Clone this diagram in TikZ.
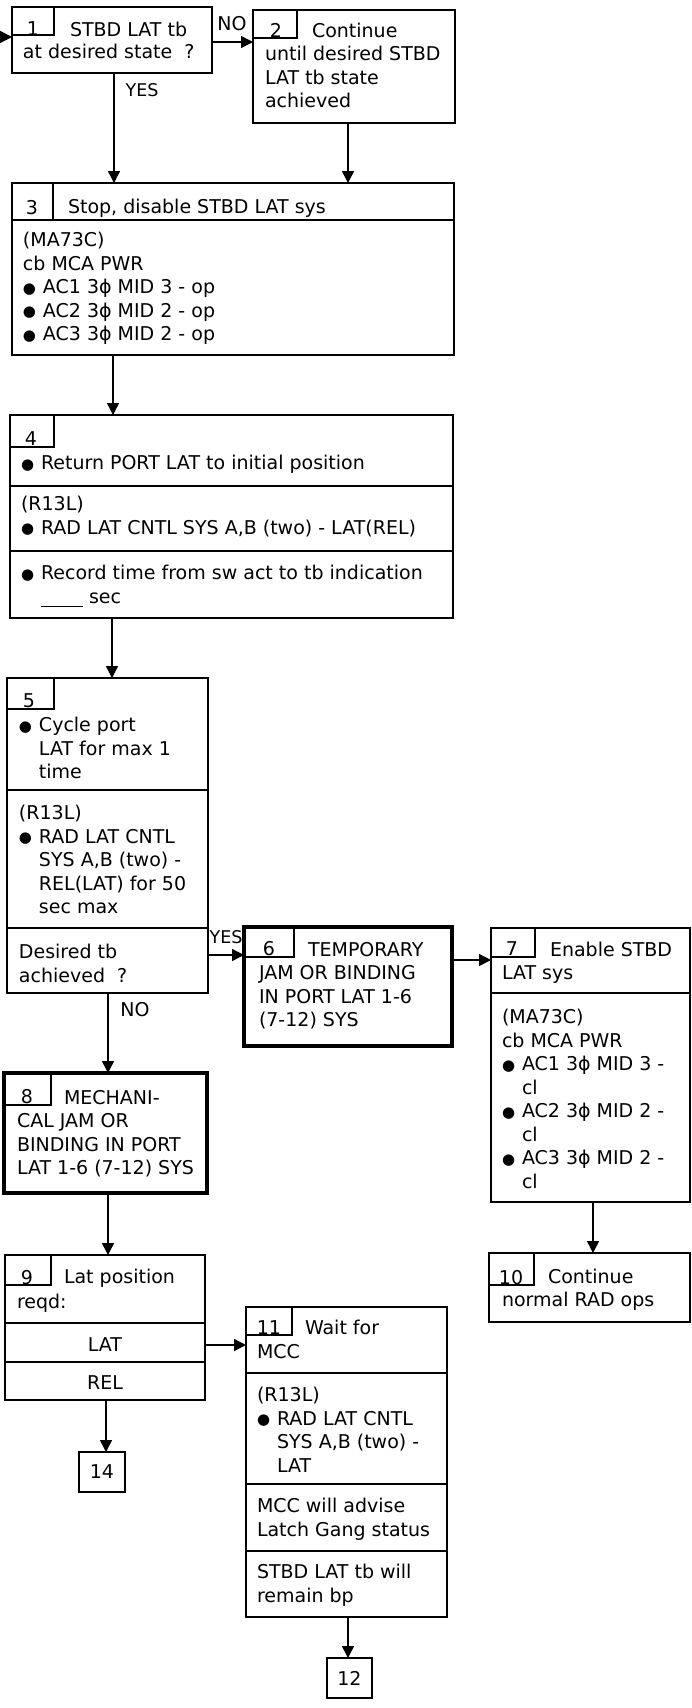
\documentclass[tikz,border=0pt]{standalone}
\usepackage{fontspec}
\setmainfont{DejaVu Sans}
\usetikzlibrary{arrows.meta}
\newcommand\bul{\makebox[20pt][l]{\raisebox{0.5pt}{\fontsize{15}{15}\selectfont ●}}}
\newcommand\indt{\hspace*{20pt}}
\tikzset{
 box/.style={draw, line width=1.3pt, inner sep=0pt, outer sep=0pt, anchor=north west, rectangle},
 thickbox/.style={box, line width=3.6pt},
 numbox/.style={box},
 txt/.style={inner sep=0pt, outer sep=0pt, anchor=north west, align=left, font=\fontsize{19}{23.5}\selectfont},
 num/.style={inner sep=0pt, outer sep=0pt, anchor=base, font=\fontsize{19}{23.5}\selectfont},
 lbl/.style={inner sep=0pt, font=\fontsize{19}{23.5}\selectfont},
 ylbl/.style={inner sep=0pt, font=\fontsize{17.5}{20}\selectfont},
 ln/.style={line width=1.3pt},
 arr/.style={line width=1.4pt, -{Triangle[length=12pt,width=12pt]}},
}
\begin{document}
\begin{tikzpicture}[x=1pt,y=-1pt]
\fill[white] (0,0) rectangle (691,1708);
\useasboundingbox (0,0) rectangle (691,1708);

% ---------- boxes ----------
\node[box, minimum width=200pt, minimum height=66pt] (b1) at (12,7) {};
\node[box, minimum width=202pt, minimum height=113pt] (b2) at (253,10) {};
\node[box, minimum width=442pt, minimum height=172pt] (b3) at (12,183) {};
\node[box, minimum width=443pt, minimum height=203pt] (b4) at (10,415) {};
\node[box, minimum width=201pt, minimum height=315pt] (b5) at (7,678) {};
\node[thickbox, minimum width=208pt, minimum height=119pt] (b6) at (244,927) {};
\node[box, minimum width=199pt, minimum height=274pt] (b7) at (491,928) {};
\node[thickbox, minimum width=203pt, minimum height=120pt] (b8) at (4,1073) {};
\node[box, minimum width=200pt, minimum height=145pt] (b9) at (5,1255) {};
\node[box, minimum width=201pt, minimum height=69pt] (b10) at (489,1253) {};
\node[box, minimum width=201pt, minimum height=310pt] (b11) at (246,1307) {};
\node[box, anchor=center, minimum width=46pt, minimum height=40pt, font=\fontsize{19}{23.5}\selectfont] (b14) at (102,1472) {14};
\node[box, anchor=center, minimum width=45pt, minimum height=40pt, font=\fontsize{19}{23.5}\selectfont] (b12) at (349.5,1678) {12};

% ---------- number boxes ----------
\node[numbox, minimum width=42pt, minimum height=28pt] (n1) at (12,7) {};
\node[numbox, minimum width=44pt, minimum height=28pt] (n2) at (253,10) {};
\node[numbox, minimum width=41pt, minimum height=37pt] (n3) at (12,183) {};
\node[numbox, minimum width=44pt, minimum height=32pt] (n4) at (10,415) {};
\node[numbox, minimum width=47pt, minimum height=31pt] (n5) at (7,678) {};
\node[numbox, minimum width=50pt, minimum height=30pt] (n6) at (244,927) {};
\node[numbox, minimum width=44pt, minimum height=29pt] (n7) at (491,928) {};
\node[numbox, minimum width=47pt, minimum height=32pt] (n8) at (4,1073) {};
\node[numbox, minimum width=46pt, minimum height=30pt] (n9) at (5,1255) {};
\node[numbox, minimum width=45pt, minimum height=32pt] (n10) at (489,1253) {};
\node[numbox, minimum width=46pt, minimum height=28pt] (n11) at (246,1307) {};

% ---------- dividers ----------
\draw[ln] (b3.west |- 0,220) -- (b3.east |- 0,220);
\draw[ln] (b4.west |- 0,486) -- (b4.east |- 0,486);
\draw[ln] (b4.west |- 0,551) -- (b4.east |- 0,551);
\draw[ln] (b5.west |- 0,790) -- (b5.east |- 0,790);
\draw[ln] (b5.west |- 0,928) -- (b5.east |- 0,928);
\draw[ln] (b7.west |- 0,993) -- (b7.east |- 0,993);
\draw[ln] (b9.west |- 0,1323) -- (b9.east |- 0,1323);
\draw[ln] (b9.west |- 0,1362) -- (b9.east |- 0,1362);
\draw[ln] (b11.west |- 0,1373) -- (b11.east |- 0,1373);
\draw[ln] (b11.west |- 0,1484) -- (b11.east |- 0,1484);
\draw[ln] (b11.west |- 0,1551) -- (b11.east |- 0,1551);

% ---------- texts ----------
\node[num] (d1) at (33,35) {1};
\node[txt] (t1a) at (70,22.5) {STBD LAT tb};
\node[txt] (t1b) at (23,44.5) {at desired state\ \ ?};

\node[num] (d2) at (276,37) {2};
\node[txt] (t2a) at (312,23.5) {Continue};
\node[txt] (t2b) at (265,46.5) {until desired STBD\\LAT tb state\\achieved};

\node[num] (d3) at (32,214) {3};
\node[txt] (t3a) at (68,199.5) {Stop, disable STBD LAT sys};
\node[txt] (t3b) at (23,232.5) {(MA73C)\\cb MCA PWR\\\bul AC1 3ϕ MID 3 - op\\\bul AC2 3ϕ MID 2 - op\\\bul AC3 3ϕ MID 2 - op};

\node[num] (d4) at (31,445) {4};
\node[txt] (t4a) at (21,455.5) {\bul Return PORT LAT to initial position};
\node[txt] (t4b) at (21,496.5) {(R13L)\\\bul RAD LAT CNTL SYS A,B (two) - LAT(REL)};
\node[txt] (t4c) at (21,565.5) {\bul Record time from sw act to tb indication\\\indt\rule[-3.5pt]{42pt}{1.2pt}\hspace{6pt}sec};

\node[num] (d5) at (29,707) {5};
\node[txt] (t5a) at (19,717.5) {\bul Cycle port\\\indt LAT for max 1\\\indt time};
\node[txt] (t5b) at (19,805.5) {(R13L)\\\bul RAD LAT CNTL\\\indt SYS A,B (two) -\\\indt REL(LAT) for 50\\\indt sec max};
\node[txt] (t5c) at (19,944.5) {Desired tb\\achieved\ \ ?};

\node[num] (d6) at (269,955) {6};
\node[txt] (t6a) at (308,942.5) {TEMPORARY};
\node[txt] (t6b) at (259,965.5) {JAM OR BINDING\\IN PORT LAT 1-6\\(7-12) SYS};

\node[num] (d7) at (512,955) {7};
\node[txt] (t7a) at (550,942.5) {Enable STBD};
\node[txt] (t7b) at (502,965.5) {LAT sys};
\node[txt] (t7c) at (502,1009.5) {(MA73C)\\cb MCA PWR\\\bul AC1 3ϕ MID 3 -\\\indt cl\\\bul AC2 3ϕ MID 2 -\\\indt cl\\\bul AC3 3ϕ MID 2 -\\\indt cl};

\node[num] (d8) at (27,1103) {8};
\node[txt] (t8a) at (64,1090.5) {MECHANI-};
\node[txt] (t8b) at (17,1113.5) {CAL JAM OR\\BINDING IN PORT\\LAT 1-6 (7-12) SYS};

\node[num] (d9) at (27,1284) {9};
\node[txt] (t9a) at (64,1269.5) {Lat position};
\node[txt] (t9b) at (17,1294.5) {reqd:};
\node[num] (t9c) at (105,1351.5) {LAT};
\node[num] (t9d) at (105,1389.5) {REL};

\node[num] (d10) at (511,1284) {10};
\node[txt] (t10a) at (548,1269.5) {Continue};
\node[txt] (t10b) at (502,1292.5) {normal RAD ops};

\node[num] (d11) at (269,1334) {11};
\node[txt] (t11a) at (305,1320.5) {Wait for};
\node[txt] (t11b) at (257,1344.5) {MCC};
\node[txt] (t11c) at (257,1387.5) {(R13L)\\\bul RAD LAT CNTL\\\indt SYS A,B (two) -\\\indt LAT};
\node[txt] (t11d) at (257,1498.5) {MCC will advise\\Latch Gang status};
\node[txt] (t11e) at (257,1564.5) {STBD LAT tb will\\remain bp};

% ---------- labels ----------
\node[lbl] (lno1) at (232,24) {NO};
\node[ylbl] (lyes1) at (142,90) {YES};
\node[ylbl] (lyes2) at (226,937) {YES};
\node[lbl] (lno2) at (135,1010) {NO};

% ---------- connectors ----------
\coordinate (cin) at (0,37);
\coordinate (cno1) at (0,42);
\coordinate (cyes1) at (114,0);
\coordinate (c23) at (348,0);
\coordinate (c34) at (113,0);
\coordinate (c45) at (112,0);
\coordinate (c56) at (0,955);
\coordinate (c58) at (108,0);
\coordinate (c67) at (0,960);
\coordinate (c710) at (593,0);
\coordinate (c911) at (0,1345);
\coordinate (c914) at (106,0);
\coordinate (c1112) at (348,0);

\draw[arr] (cin) -- (cin -| b1.west);
\draw[arr] (b1.east |- cno1) -- (b2.west |- cno1);
\draw[arr] (b1.south -| cyes1) -- (b3.north -| cyes1);
\draw[arr] (b2.south -| c23) -- (b3.north -| c23);
\draw[arr] (b3.south -| c34) -- (b4.north -| c34);
\draw[arr] (b4.south -| c45) -- (b5.north -| c45);
\draw[arr] (b5.east |- c56) -- (b6.west |- c56);
\draw[arr] (b5.south -| c58) -- (b8.north -| c58);
\draw[arr] (b6.east |- c67) -- (b7.west |- c67);
\draw[arr] (b7.south -| c710) -- (b10.north -| c710);
\draw[arr] (b8.south -| c58) -- (b9.north -| c58);
\draw[arr] (b9.east |- c911) -- (b11.west |- c911);
\draw[arr] (b9.south -| c914) -- (b14.north -| c914);
\draw[arr] (b11.south -| c1112) -- (b12.north -| c1112);
\end{tikzpicture}
\end{document}
